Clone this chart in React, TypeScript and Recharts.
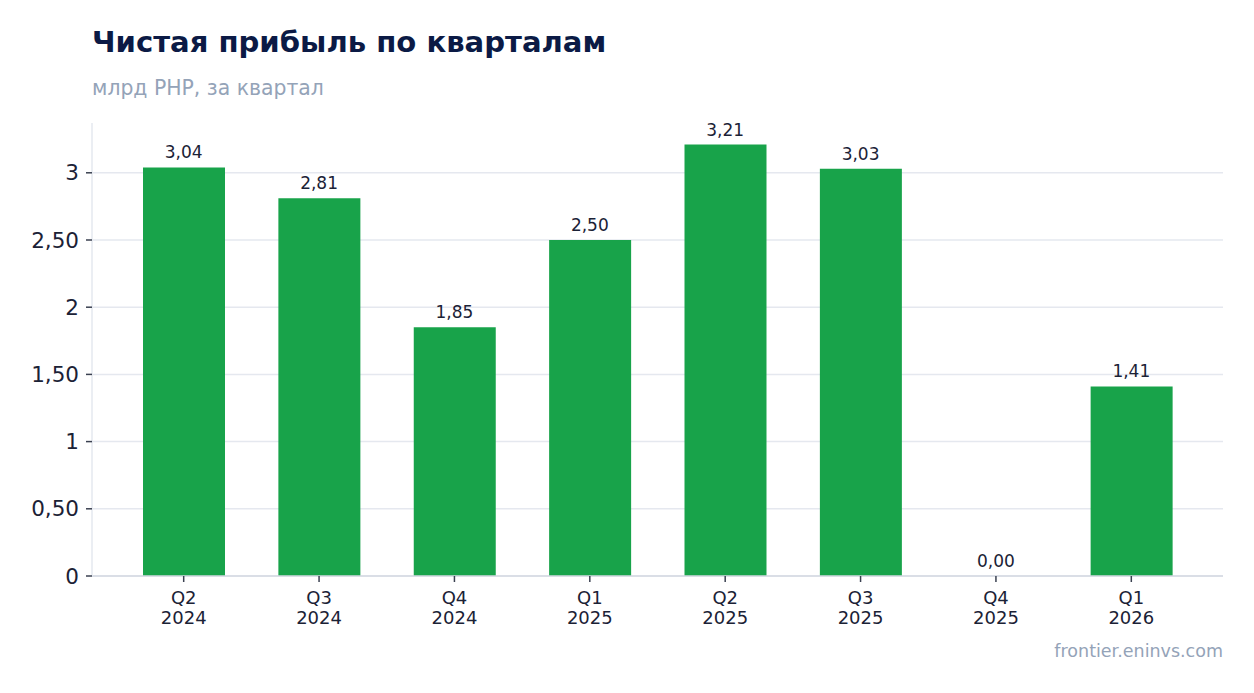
import React from "react";
import { ComposedChart, Bar, Line, XAxis, YAxis, CartesianGrid, LabelList } from "recharts";

const quarters = ["Q2", "Q3", "Q4", "Q1", "Q2", "Q3", "Q4", "Q1"];
const years = ["2024", "2024", "2024", "2025", "2025", "2025", "2025", "2026"];
const profit = [3.04, 2.81, 1.85, 2.5, 3.21, 3.03, 0.0, 1.41];
const yTicks = [0, 0.5, 1, 1.5, 2, 2.5, 3];

const data = quarters.map((q, i) => ({ key: `${q} ${years[i]}`, q, y: years[i], v: profit[i] }));

const FONT = "'DejaVu Sans', sans-serif";
const TEXT = "#1b2236";

const fmtY = (v: number) => (Number.isInteger(v) ? String(v) : v.toFixed(2).replace(".", ","));
const fmtLabel = (v: any) => Number(v).toFixed(2).replace(".", ",");

const XTick = (props: any) => {
  const { x, y, index } = props;
  return (
    <g>
      <text x={x} y={y} textAnchor="middle" fontSize={18} fill={TEXT} fontFamily={FONT}>
        <tspan x={x} dy={20}>{quarters[index]}</tspan>
        <tspan x={x} dy={20}>{years[index]}</tspan>
      </text>
    </g>
  );
};

export default function App() {
  return (
    <div style={{ position: "absolute", left: 0, top: 0, width: 1254, height: 693, background: "#fff", fontFamily: FONT }}>
      <div style={{ position: "absolute", left: 92, top: 25, fontSize: 29.1, fontWeight: 700, color: "#0b1a45", whiteSpace: "nowrap" }}>
        Чистая прибыль по кварталам
      </div>
      <div style={{ position: "absolute", left: 92, top: 76, fontSize: 20.4, color: "#94a3b8", whiteSpace: "nowrap" }}>
        млрд РНР, за квартал
      </div>
      <div style={{ position: "absolute", right: 31, top: 641, fontSize: 17.5, color: "#94a3b8", whiteSpace: "nowrap" }}>
        frontier.eninvs.com
      </div>
      <ComposedChart
        width={1254}
        height={693}
        data={data}
        margin={{ top: 123, right: 31, bottom: 57, left: 22 }}
        style={{ position: "absolute", left: 0, top: 0 }}
      >
        <CartesianGrid vertical={false} horizontalValues={yTicks} stroke="#e5e8ef" strokeWidth={1.5} />
        <XAxis
          dataKey="key"
          interval={0}
          height={60}
          padding={{ left: 24, right: 24 }}
          axisLine={{ stroke: "#d4d9e2", strokeWidth: 1.5 }}
          tickLine={{ stroke: "#3a4050", strokeWidth: 1.5 }}
          tickSize={6}
          tick={<XTick />}
        />
        <YAxis
          width={70}
          domain={[0, 3.3705]}
          ticks={yTicks}
          tickFormatter={fmtY}
          axisLine={{ stroke: "#e5e8ef", strokeWidth: 1.5 }}
          tickLine={{ stroke: "#3a4050", strokeWidth: 1.5 }}
          tickSize={6}
          tickMargin={7}
          tick={{ fontSize: 21.5, fill: TEXT, fontFamily: FONT }}
        />
        <Bar dataKey="v" fill="#18a34a" barSize={82} isAnimationActive={false} />
        <Line dataKey="v" stroke="none" dot={false} activeDot={false} isAnimationActive={false}>
          <LabelList
            dataKey="v"
            position="top"
            offset={9}
            formatter={fmtLabel}
            style={{ fontSize: 17, fill: TEXT, fontFamily: FONT }}
          />
        </Line>
      </ComposedChart>
    </div>
  );
}
